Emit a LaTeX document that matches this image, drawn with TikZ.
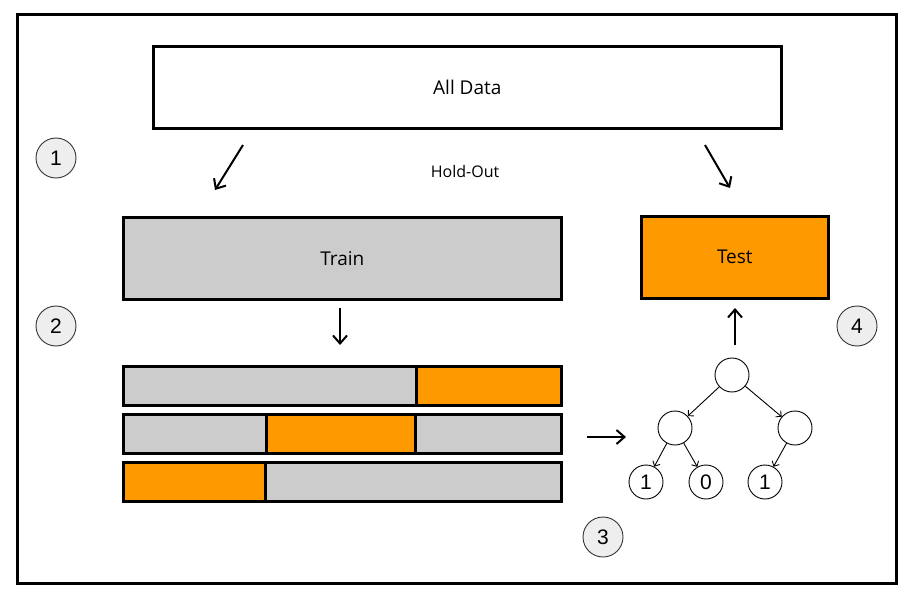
\documentclass[tikz,border=0pt]{standalone}
\usepackage{fontspec}
\setmainfont{Open Sans}
\newfontfamily\digitfont{Liberation Sans}
\usetikzlibrary{arrows.meta}
\definecolor{grayfill}{HTML}{CCCCCC}
\definecolor{orangefill}{HTML}{FF9900}
\definecolor{stepfill}{HTML}{EEEEEE}
\begin{document}
\begin{tikzpicture}[x=1pt,y=-1pt,
  box/.style={draw=black,line width=2.6pt,anchor=north west,inner sep=0pt,font=\fontsize{19}{22}\selectfont},
  seg/.style={draw=black,line width=2.6pt,anchor=north west,inner sep=0pt,minimum height=39pt},
  stepnum/.style={circle,draw=black!80,line width=0.9pt,fill=stepfill,minimum size=40pt,inner sep=0pt,font=\digitfont\fontsize{21}{24}\selectfont},
  bigarrow/.style={line width=2pt,-{Straight Barb[length=8pt,width=14pt,line width=2pt]}},
  tnode/.style={circle,draw=black,line width=0.9pt,minimum size=34pt,inner sep=0pt,font=\digitfont\fontsize{21}{24}\selectfont},
  tedge/.style={line width=0.9pt,-{Straight Barb[length=4pt,width=8pt,line width=0.9pt]}}]
\useasboundingbox (0,0) rectangle (910,596);
\fill[white] (0,0) rectangle (910,596);
\node[draw=black,line width=3pt,anchor=north west,inner sep=0pt,minimum width=879pt,minimum height=569pt] (frame) at (16,13) {};
% boxes
\node[box,fill=white,minimum width=628pt,minimum height=82pt] (all) at (152,45) {All Data};
\node[font=\fontsize{16}{19}\selectfont] (hold) at (465,172) {Hold-Out};
\node[box,fill=grayfill,minimum width=438pt,minimum height=82pt] (train) at (122,216) {Train};
\node[box,fill=orangefill,minimum width=187pt,minimum height=82pt] (test) at (640,215) {Test};
% step circles
\node[stepnum] (s1) at (56,158) {1};
\node[stepnum] (s2) at (56,326) {2};
\node[stepnum] (s3) at (603,537) {3};
\node[stepnum] (s4) at (857,326) {4};
% arrows
\coordinate (a1s) at (243,145); \coordinate (a1e) at (215,190);
\coordinate (a2s) at (705,145); \coordinate (a2e) at (730,188);
\coordinate (a3s) at (340,308); \coordinate (a3e) at (340,345);
\coordinate (a4s) at (735,345); \coordinate (a4e) at (735,308);
\coordinate (a5s) at (587,437); \coordinate (a5e) at (626,437);
\draw[bigarrow] (a1s) -- (a1e);
\draw[bigarrow] (a2s) -- (a2e);
\draw[bigarrow] (a3s) -- (a3e);
\draw[bigarrow] (a4s) -- (a4e);
\draw[bigarrow] (a5s) -- (a5e);
% folds
\node[seg,fill=grayfill,minimum width=293pt] (f1a) at (122,365) {};
\node[seg,fill=orangefill,minimum width=145pt] (f1b) at (415,365) {};
\node[seg,fill=grayfill,minimum width=143pt] (f2a) at (122,413) {};
\node[seg,fill=orangefill,minimum width=149pt] (f2b) at (265,413) {};
\node[seg,fill=grayfill,minimum width=146pt] (f2c) at (414,413) {};
\node[seg,fill=orangefill,minimum width=142pt] (f3a) at (122,461) {};
\node[seg,fill=grayfill,minimum width=296pt] (f3b) at (264,461) {};
% tree
\node[tnode] (r) at (732,375) {};
\node[tnode] (l) at (675,428) {};
\node[tnode] (rr) at (795,428) {};
\node[tnode] (l1) at (646,482) {1};
\node[tnode] (l2) at (706,482) {0};
\node[tnode] (l3) at (765,482) {1};
\draw[tedge] (r) -- (l);
\draw[tedge] (r) -- (rr);
\draw[tedge] (l) -- (l1);
\draw[tedge] (l) -- (l2);
\draw[tedge] (rr) -- (l3);
\end{tikzpicture}
\end{document}
